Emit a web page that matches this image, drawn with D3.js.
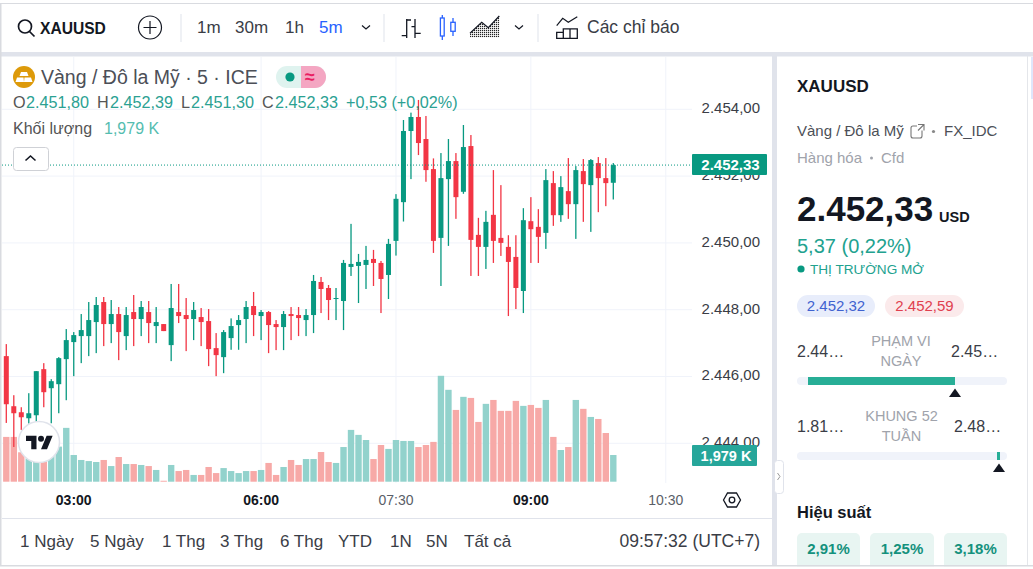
<!DOCTYPE html>
<html><head><meta charset="utf-8">
<script src="https://cdn.jsdelivr.net/npm/d3@7/dist/d3.min.js"></script>
<style>html,body{margin:0;padding:0;background:#fff;overflow:hidden}svg{display:block}text{font-family:"Liberation Sans",Arial,sans-serif}</style>
</head><body><script>
// ---- data ----
const opens=[2446.61,2445.11,2444.93,2444.75,2444.84,2446.22,2445.65,2445.77,2446.52,2447.03,2447.21,2447.21,2447.63,2448.23,2447.57,2447.87,2447.21,2447.93,2447.72,2447.93,2447.51,2447.57,2446.94,2447.93,2447.84,2447.72,2447.78,2447.66,2446.85,2446.58,2447.15,2447.54,2447.72,2448.11,2447.81,2447.93,2447.57,2447.48,2447.87,2447.84,2447.69,2447.84,2448.83,2448.65,2448.32,2448.26,2449.28,2449.31,2449.34,2449.52,2449.40,2449.04,2450.06,2451.22,2453.35,2453.77,2453.11,2452.21,2450.15,2451.91,2452.45,2451.53,2452.90,2450.24,2449.88,2450.84,2450.15,2449.88,2449.58,2448.56,2450.65,2450.48,2450.30,2451.79,2450.83,2451.55,2451.16,2452.15,2451.73,2452.39,2451.94,2451.80];
const highs=[2446.97,2445.44,2445.08,2445.50,2446.16,2446.40,2445.92,2446.58,2447.42,2447.33,2447.87,2448.23,2448.38,2448.38,2448.29,2448.08,2448.08,2448.44,2448.26,2448.26,2448.08,2447.57,2448.77,2448.77,2448.35,2448.23,2448.05,2448.02,2447.30,2447.39,2447.74,2447.84,2448.26,2448.53,2447.99,2447.96,2447.69,2447.96,2448.08,2448.08,2448.02,2449.04,2448.98,2448.74,2448.65,2449.49,2450.57,2449.67,2449.91,2449.79,2449.46,2450.12,2451.46,2453.68,2453.90,2454.28,2453.80,2452.53,2452.69,2453.11,2452.69,2453.53,2453.23,2450.75,2450.96,2452.18,2451.73,2450.23,2450.23,2451.04,2451.37,2451.01,2452.21,2452.15,2452.00,2452.54,2452.30,2452.51,2452.51,2452.57,2452.54,2452.39];
const lows=[2444.61,2443.89,2444.40,2444.59,2444.64,2445.08,2444.60,2444.90,2445.29,2446.01,2446.40,2446.61,2446.70,2446.91,2447.00,2446.49,2446.79,2446.91,2447.21,2447.00,2447.00,2447.36,2446.46,2447.60,2446.76,2447.09,2446.91,2446.31,2446.01,2446.10,2446.80,2446.80,2447.00,2447.21,2447.09,2446.70,2446.79,2446.79,2447.09,2447.21,2447.21,2447.30,2447.90,2447.69,2447.69,2447.39,2449.01,2448.20,2448.62,2448.71,2447.90,2448.32,2449.62,2450.64,2451.91,2452.63,2451.83,2449.70,2448.71,2449.91,2450.72,2451.47,2449.01,2449.01,2449.22,2449.40,2449.61,2447.81,2448.02,2447.90,2449.40,2449.40,2449.82,2450.51,2450.63,2450.72,2450.12,2450.63,2450.33,2450.92,2451.10,2451.30];
const closes=[2445.17,2444.90,2444.78,2444.90,2446.16,2445.53,2445.86,2446.55,2447.09,2447.24,2447.39,2447.69,2448.14,2447.57,2447.87,2447.33,2447.84,2447.72,2448.08,2447.60,2447.63,2447.36,2448.05,2447.81,2447.72,2447.99,2447.63,2446.82,2446.64,2447.33,2447.51,2447.69,2448.08,2447.84,2447.93,2447.54,2447.48,2447.87,2447.81,2447.75,2447.84,2448.86,2448.62,2448.29,2448.35,2449.40,2449.37,2449.43,2449.49,2449.40,2448.92,2449.97,2451.32,2453.35,2453.77,2452.99,2452.18,2450.06,2451.94,2452.45,2451.37,2452.87,2450.09,2449.88,2450.63,2450.06,2450.00,2449.43,2448.65,2450.68,2450.41,2450.18,2451.88,2450.83,2451.67,2451.16,2452.18,2451.76,2452.48,2451.94,2451.79,2452.33];
const volumes=[3.32,3.32,2.18,1.73,1.61,1.61,1.98,2.60,3.99,1.98,1.61,1.53,1.46,1.61,1.16,1.83,1.31,1.31,1.24,1.16,0.87,0.07,1.24,0.79,0.87,0.50,0.50,1.09,0.64,1.01,0.79,0.64,0.79,0.79,0.87,1.39,0.50,1.09,1.61,1.24,1.68,1.68,2.20,1.46,1.39,2.57,3.84,3.47,3.09,1.68,2.72,2.43,3.09,3.02,3.02,2.57,2.72,2.95,7.85,6.81,5.32,6.29,6.21,4.43,5.77,6.06,5.25,5.25,5.99,5.62,5.69,5.47,6.06,3.32,2.35,2.57,6.06,5.40,4.80,4.65,3.61,1.979];
const priceTicks=[2444,2446,2448,2450,2452,2454];
const timeTickIndex=[9,34,52,70,88];
const timeTickLabels=["03:00","06:00","07:30","09:00","10:30"];
const timeTickBold=[true,true,false,true,false];
const ranges=["1 Ngày","5 Ngày","1 Thg","3 Thg","6 Thg","YTD","1N","5N","Tất cả"];
const intervals=["1m","30m","1h","5m"];
const perf=["2,91%","1,25%","3,18%"];
const lastPrice=2452.33, lastVolume=1.979;

const UP="#089981",DOWN="#f23645",VUP="#92d2cc",VDOWN="#f7a9a7",GRID="#f0f3fa",BAND="#e0e3eb",TXT="#3a3d46",INK="#131722",TEAL="#26a69a",GRAY="#a0a3ab";
const svg=d3.select("body").append("svg").attr("width",1033).attr("height",569);
const T=(x,y,s,size,fill,o={})=>{const t=svg.append("text").attr("x",x).attr("y",y).text(s).attr("font-size",size).attr("fill",fill);
 if(o.b)t.attr("font-weight","700");if(o.a)t.attr("text-anchor",o.a);if(o.ls)t.attr("letter-spacing",o.ls);return t;};
const R=(x,y,w,h,f,r=0)=>svg.append("rect").attr("x",x).attr("y",y).attr("width",w).attr("height",h).attr("fill",f).attr("rx",r);
const P=(d,st,sw=1.4,f="none")=>svg.append("path").attr("d",d).attr("stroke",st).attr("stroke-width",sw).attr("fill",f);

// hatch for the area-style icon
svg.append("defs").append("pattern").attr("id","hatch").attr("width",2).attr("height",2).attr("patternUnits","userSpaceOnUse")
 .append("rect").attr("width",1.2).attr("height",1.2).attr("fill","#222");

// ---- page frame ----
R(0,3,1033,1,"#d9dbe0");
R(0,52,1033,4.5,BAND);
R(772,56,5,510,BAND);
R(0,4,1.5,562,"#d9dbe0");
R(1027,56,1,510,"#e4e6ea");
R(1031,57,2,42,"#dfe6fb");

// ---- scales ----
const x=d3.scaleLinear().domain([0,81]).range([6.3,613.3]);
const y=d3.scaleLinear().domain([2444,2454]).range([443.3,109.3]);
const vY=d3.scaleLinear().domain([0,1.979]).range([481.7,455]);
const fmt=d3.formatLocale({decimal:",",thousands:".",grouping:[3],currency:["",""]}).format(",.2f");
const idx=d3.range(opens.length);

// ---- gridlines ----
svg.append("g").selectAll("line").data(priceTicks).join("line")
 .attr("x1",2).attr("x2",692).attr("y1",d=>y(d)).attr("y2",d=>y(d)).attr("stroke",GRID);
svg.append("g").selectAll("line").data(timeTickIndex).join("line")
 .attr("x1",d=>x(d)).attr("x2",d=>x(d)).attr("y1",57).attr("y2",483).attr("stroke",GRID);

// ---- volume ----
svg.append("g").selectAll("rect").data(idx).join("rect")
 .attr("x",i=>x(i)-3.2).attr("width",6.4).attr("y",i=>vY(volumes[i])).attr("height",i=>vY(0)-vY(volumes[i]))
 .attr("fill",i=>closes[i]>=opens[i]?VUP:VDOWN);

// ---- candles ----
const c=svg.append("g").selectAll("g").data(idx).join("g").attr("fill",i=>closes[i]>=opens[i]?UP:DOWN);
c.append("rect").attr("x",i=>x(i)-.65).attr("width",1.3).attr("y",i=>y(highs[i])).attr("height",i=>y(lows[i])-y(highs[i]));
c.append("rect").attr("x",i=>x(i)-2.5).attr("width",5).attr("y",i=>y(Math.max(opens[i],closes[i])))
 .attr("height",i=>Math.max(1,Math.abs(y(opens[i])-y(closes[i]))));

// ---- last price line ----
svg.append("line").attr("x1",2).attr("x2",692).attr("y1",y(lastPrice)).attr("y2",y(lastPrice))
 .attr("stroke",UP).attr("stroke-dasharray","1 2");

// ---- price axis ----
const ax=svg.append("g").attr("transform","translate(760,-1.5)")
 .call(d3.axisRight(y).tickValues(priceTicks).tickFormat(fmt).tickSize(0).tickPadding(0));
ax.select(".domain").remove();
ax.selectAll("text").attr("text-anchor","end").attr("font-size",15).attr("fill",TXT).attr("font-family","Liberation Sans");
R(692,154,75,21,UP,1);
T(730.5,169.5,fmt(lastPrice),15,"#fff",{b:1,a:"middle"});
R(692,445,65,21,TEAL,1);
T(726,460.5,"1,979 K",14.5,"#fff",{b:1,a:"middle"});

// ---- time axis ----
svg.append("g").selectAll("text").data(timeTickIndex).join("text")
 .attr("x",d=>x(d)).attr("y",505).attr("text-anchor","middle")
 .attr("font-size",14).attr("font-weight",(d,i)=>timeTickBold[i]?700:400)
 .attr("fill",(d,i)=>timeTickBold[i]?INK:"#5a5e68").text((d,i)=>timeTickLabels[i]);
// hexagon settings icon
P("M723.5 500l4-7h9l4 7l-4 7h-9z",INK,1.3);
svg.append("circle").attr("cx",732).attr("cy",500).attr("r",2.8).attr("fill","none").attr("stroke",INK).attr("stroke-width",1.3);
R(2,518,770,1,BAND);

// ---- tradingview logo ----
svg.append("circle").attr("cx",39).attr("cy",442).attr("r",20.5).attr("fill","#fff").attr("stroke",BAND).attr("stroke-width",1.5);
const lg=svg.append("g").attr("transform","translate(26,432.7) scale(.75)").attr("fill",INK);
lg.append("path").attr("d","M14 22H7V11H0V4h14v18zM28 22h-8l7.5-18h8L28 22z");
lg.append("circle").attr("cx",20).attr("cy",8).attr("r",4);

// ---- toolbar ----
svg.append("circle").attr("cx",25).attr("cy",26.5).attr("r",6.5).attr("fill","none").attr("stroke",INK).attr("stroke-width",1.7);
P("M29.5 31.5l5 5",INK,1.7);
T(40,33.5,"XAUUSD",15.6,INK,{b:1});
svg.append("circle").attr("cx",150).attr("cy",27.5).attr("r",11.5).attr("fill","none").attr("stroke",INK).attr("stroke-width",1.2);
P("M150 21v13M143.5 27.5h13",INK,1.2);
[180.5,383.5,537.5].forEach(v=>R(v,14,1,28,BAND));
const ivX=[197,235,285,319];
intervals.forEach((s,i)=>T(ivX[i],33,s,17,i==3?"#2962ff":TXT));
[366,519].forEach(v=>P(`M${v-4} 25.5l4 3.5l4-3.5`,INK,1.2));
P("M401.7 35.7h5M406.7 19v19M406.7 20h4.3M415 19v19M411.5 26.7h3.5M415 33.3h5.7",INK,1.3);
const CB="#2962ff";
P("M442.3 15v25M453 18v18",CB,1.3);
svg.append("rect").attr("x",440.4).attr("y",18).attr("width",3.8).attr("height",18).attr("fill","#fff").attr("stroke",CB).attr("stroke-width",1.3);
svg.append("rect").attr("x",450.8).attr("y",22.3).attr("width",4.4).attr("height",9).attr("fill","#fff").attr("stroke",CB).attr("stroke-width",1.3);
P("M470 37.3v-4l11.7-11l6.6 5.4l11-12v21.6z","none",0,"url(#hatch)");
P("M470 33.3l11.7-11l6.6 5.4l11-11.7",INK,1.2);
P("M556.7 25.7l6-7.4l5.6 4l9-5.6",INK,1.2);
P("M556.7 38.3v-6h6.6v6zM563.3 38.3v-9.5h6.7v9.5zM570 38.3v-9.5h7.3v9.5z",INK,1.3);
T(587,33,"Các chỉ báo",17.5,TXT);

// ---- legend ----
svg.append("circle").attr("cx",24).attr("cy",77).attr("r",11).attr("fill","#dd9a0a");
P("M19.5 76l1.5-4h6l1.5 4z","none",0,"#fff");
P("M15.5 82l1.5-4.5h6.5l0.5 4.5zM24 82l.5-4.5h6.5l1.5 4.5z","none",0,"#fff");
T(41,84,"Vàng / Đô la Mỹ · 5 · ICE",19.5,"#4c4f57");
R(276,66,50,22,"#dff3ef",11);
svg.append("path").attr("d","M301 66h14a11 11 0 0 1 0 22h-14z").attr("fill","#f4a6c2");
svg.append("circle").attr("cx",290).attr("cy",77).attr("r",4.6).attr("fill",UP);
T(305,83,"≈",18,"#e91e63",{b:1});
const LG="#2ba193";
[["O",13,"#555"],["2.451,80",26,LG],["H",97,"#555"],["2.452,39",110,LG],["L",181,"#555"],["2.451,30",191,LG],["C",262,"#555"],["2.452,33",275,LG],["+0,53 (+0,02%)",346,LG]]
 .forEach(a=>T(a[1],108,a[0],16.2,a[2]));
T(13,134,"Khối lượng",16,"#555");
T(104,134,"1,979 K",16,"#55bdb0");
svg.append("rect").attr("x",13.5).attr("y",147.5).attr("width",35).attr("height",23).attr("rx",3).attr("fill","#fff").attr("stroke","#cfd1d6");
P("M25.5 160.5l5-4.5l5 4.5",INK,1.6);

// ---- range bar ----
const rX=[20,90,162,220,280,338,390,426,464];
ranges.forEach((s,i)=>T(rX[i],547,s,17,TXT));
T(760,547,"09:57:32 (UTC+7)",17.5,TXT,{a:"end"});

// ---- side panel ----
T(797,92,"XAUUSD",17,INK,{b:1});
T(797,136,"Vàng / Đô la Mỹ",15,"#4c4f57");
P("M922 130.5v5.5a2 2 0 0 1-2 2h-7a2 2 0 0 1-2-2v-8a2 2 0 0 1 2-2h4M918 124.5h6v6M924 124.5l-6 6","#777",1.1);
svg.append("circle").attr("cx",933.5).attr("cy",131.5).attr("r",1.6).attr("fill","#888");
T(944,136,"FX_IDC",15,"#4c4f57");
T(797,163,"Hàng hóa",15,GRAY);
svg.append("circle").attr("cx",871.5).attr("cy",158).attr("r",1.5).attr("fill",GRAY);
T(881,163,"Cfd",15,GRAY);
T(797,221,"2.452,33",35,INK,{b:1});
T(939,222,"USD",14.5,INK,{b:1});
T(797,253,"5,37 (0,22%)",20,"#22a28f");
svg.append("circle").attr("cx",801).attr("cy",269).attr("r",3.6).attr("fill",UP);
T(810,274,"THỊ TRƯỜNG MỞ",13.6,"#22a28f");
R(797,295,78,22,"#e8edfb",11); T(836,311,"2.452,32",15,"#3f62d0",{a:"middle"});
R(885,295,79,22,"#fbeaeb",11); T(924.5,311,"2.452,59",15,"#e0404f",{a:"middle"});
T(797,357,"2.44…",16,"#3a3d46"); T(951,357,"2.45…",16,"#3a3d46");
T(901,346,"PHẠM VI",14.5,GRAY,{a:"middle"}); T(901,366,"NGÀY",14.5,GRAY,{a:"middle"});
R(797,377,210,8,GRID,4); R(808,377,147,8,"#27ae96");
P("M949 397l6-8.5l6 8.5z","none",0,INK);
T(797,432,"1.81…",16,"#3a3d46"); T(954,432,"2.48…",16,"#3a3d46");
T(901.5,421,"KHUNG 52",14.5,GRAY,{a:"middle"}); T(901.5,441,"TUẦN",14.5,GRAY,{a:"middle"});
R(797,452,210,8,GRID,4); R(997,452,3,8,"#27ae96");
P("M993 472l6-8.5l6 8.5z","none",0,INK);
T(797,518,"Hiệu suất",16.5,INK,{b:1});
const pX=[797,870,944],pW=[63,64,63];
perf.forEach((s,i)=>{R(pX[i],533,pW[i],40,"#e8f5f2",5);T(pX[i]+pW[i]/2,554,s,15,"#14917d",{b:1,a:"middle"});});
R(0,566.5,1033,3,"#fff");
R(0,565,1033,1.5,"#d9dbe0");
// collapse handle
svg.append("rect").attr("x",774.5).attr("y",460.5).attr("width",9).attr("height",33).attr("rx",3).attr("fill","#fff").attr("stroke",BAND);
P("M777.5 473l2.5 3.5l-2.5 3.5","#999",1);
</script></body></html>
